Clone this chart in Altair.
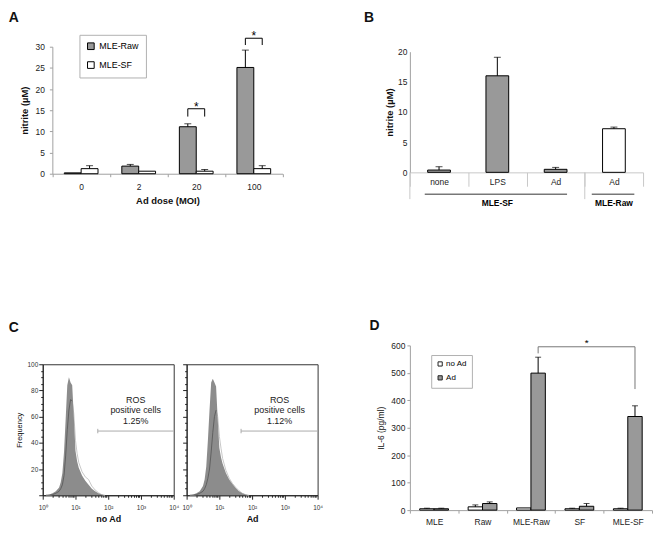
import altair as alt
import pandas as pd

FONT = "Liberation Sans"
GRAY = "#999999"
FILL = "#8c8c8c"
AXC = "#a0a0a0"

panel_letters = ["A", "B", "C", "D"]

# ---------------- Panel A : nitrite vs Ad dose ----------------
a_doses = ["0", "2", "20", "100"]
a_series = ["MLE-Raw", "MLE-SF"]
a_raw = [0.2, 1.8, 11.1, 25.1]
a_raw_err = [0.2, 2.2, 11.8, 29.2]
a_sf = [1.2, 0.6, 0.6, 1.2]
a_sf_err = [1.9, 0.6, 1.0, 1.9]
a_sig_doses = ["20", "100"]
a_sig_low = [13.5, 30.4]
a_sig_high = [15.35, 32.0]

# ---------------- Panel B : nitrite by treatment ----------------
b_cats = ["SF|none", "SF|LPS", "SF|Ad", "Raw|Ad"]
b_cells = ["MLE-SF", "MLE-SF", "MLE-SF", "MLE-Raw"]
b_vals = [0.38, 16.0, 0.5, 7.23]
b_err = [0.93, 19.07, 0.82, 7.5]
b_groups = ["MLE-SF", "MLE-Raw"]
b_group_first = ["SF|none", "Raw|Ad"]
b_group_last = ["SF|Ad", "Raw|Ad"]
b_group_mid = ["SF|LPS", "Raw|Ad"]
b_long_sep = ["SF|none", "Raw|Ad"]

# ---------------- Panel C : ROS flow histograms ----------------
c_decade = [0.1, 0.2, 0.3, 0.4, 0.5, 0.55, 0.6, 0.65, 0.7, 0.75, 0.8, 0.85, 0.9,
            0.95, 1.0, 1.05, 1.1, 1.2, 1.3, 1.4, 1.5, 1.6, 1.7, 1.8, 1.9]
c_fill_noad = [0, 0.5, 1.5, 3, 6, 10, 17, 33, 58, 84, 90, 86, 84,
               60, 34, 26, 21, 15, 11, 8, 5, 3, 1.5, 0.5, 0]
c_line_noad = [0, 0, 0.5, 1.5, 3, 5, 8, 15, 30, 50, 65, 73, 72,
               62, 42, 32, 25, 18, 14, 12, 7, 4, 2, 0.5, 0]
c_fill_ad = [0, 0.5, 1.5, 3, 7, 12, 22, 42, 65, 86, 89, 86, 83,
             58, 36, 29, 24, 17, 12, 8.5, 5.5, 3, 1.5, 0.5, 0]
c_line_ad = [0, 0, 0.5, 1.5, 3, 5, 8, 13, 20, 33, 48, 60, 65,
             60, 45, 36, 28, 19, 13, 9, 6, 3.5, 1.5, 0.5, 0]
c_titles = ["no Ad", "Ad"]
c_gate_start = [48, 46]
c_gate_level = 49
c_pct = ["1.25%", "1.12%"]
c_text = ["ROS", "positive cells"]
c_text_y = [73, 64.8, 57]
c_text_x = 690

# ---------------- Panel D : IL-6 ----------------
d_cats = ["MLE", "Raw", "MLE-Raw", "SF", "MLE-SF"]
d_series = ["no Ad", "Ad"]
d_noad = [5, 12, 8, 5, 5]
d_noad_err = [7, 19, 8, 7, 7]
d_ad = [5, 24, 499, 14, 341]
d_ad_err = [7, 30, 557, 24, 380]
d_sig_left = ["MLE-Raw", 571]
d_sig_right = ["MLE-SF", 441]
d_sig_top = 595


def letter(i, dx, dy):
    return alt.Chart(pd.DataFrame({"t": [panel_letters[i]]})).mark_text(
        align="left", baseline="top", fontSize=14, fontWeight="bold", color="#111111"
    ).encode(text="t:N", x=alt.value(dx), y=alt.value(dy))


# ======================= Panel A =======================
A_LEFT = 9.7          # empty strip left of the y axis (aligns with panel C)
A_W, A_H = 232 + A_LEFT, 128
A_BAR = 17            # bar width in px
A_SHIFT = [-A_BAR / 2, A_BAR / 2]
a_df = pd.DataFrame({
    "dose": a_doses + a_doses,
    "series": [a_series[0]] * 4 + [a_series[1]] * 4,
    "value": a_raw + a_sf,
    "err": a_raw_err + a_sf_err,
})
a_sig = pd.DataFrame({"dose": a_sig_doses, "low": a_sig_low, "high": a_sig_high})

a_x = alt.X("dose:N", sort=a_doses, title="Ad dose (MOI)",
            scale=alt.Scale(type="band", domain=a_doses, range=[A_LEFT, A_W],
                            paddingInner=0, paddingOuter=0),
            axis=alt.Axis(labelAngle=0, tickBand="extent", tickSize=3, tickColor=AXC,
                          domainColor=AXC, labelPadding=6, labelFontSize=8.5,
                          titleFontSize=9.5, titleFontWeight="bold", titlePadding=5))


def a_y(field):
    return alt.Y(field, title="nitrite (µM)",
                 scale=alt.Scale(domain=[0, 30], nice=False),
                 axis=alt.Axis(values=[0, 5, 10, 15, 20, 25, 30], grid=False, tickSize=3,
                               tickColor=AXC, domainColor=AXC, labelPadding=5,
                               labelFontSize=8.5, titleFontSize=9.5, titleFontWeight="bold",
                               minExtent=17, maxExtent=17, titlePadding=6, offset=-A_LEFT))


a_color = alt.Color("series:N", sort=a_series,
                    scale=alt.Scale(domain=a_series, range=[GRAY, "white"]),
                    legend=alt.Legend(orient="none", legendX=37, legendY=-12, title=None,
                                      symbolType="square", symbolSize=45,
                                      symbolStrokeColor="black", symbolStrokeWidth=1,
                                      labelFontSize=9, rowPadding=8, padding=7,
                                      labelOffset=4, strokeColor="#b0b0b0",
                                      fillColor="white"))
a_layers = []
for s, sh in zip(a_series, A_SHIFT):
    base = alt.Chart(a_df).transform_filter(f"datum.series == '{s}'")
    a_layers.append(base.mark_bar(stroke="black", strokeWidth=1, width=A_BAR, xOffset=sh)
                    .encode(x=a_x, y=a_y("value:Q"), color=a_color))
    err = base.transform_filter("datum.err > datum.value")
    a_layers.append(err.mark_rule(color="black", strokeWidth=1, xOffset=sh)
                    .encode(x=a_x, y=a_y("value:Q"), y2="err:Q"))
    a_layers.append(err.mark_tick(color="black", thickness=1, size=7, orient="horizontal",
                                  xOffset=sh).encode(x=a_x, y=a_y("err:Q")))
    # bracket legs
    a_layers.append(alt.Chart(a_sig).mark_rule(color="black", strokeWidth=1, xOffset=sh)
                    .encode(x=a_x, y=a_y("low:Q"), y2="high:Q"))
# bracket top + star
a_layers.append(alt.Chart(a_sig).mark_rule(color="black", strokeWidth=1,
                                           xOffset=A_SHIFT[0], x2Offset=A_SHIFT[1])
                .encode(x=a_x, x2="dose:N", y=a_y("high:Q")))
a_layers.append(alt.Chart(a_sig).mark_text(text="*", fontSize=12, dy=2, baseline="alphabetic")
                .encode(x=a_x, y=a_y("high:Q")))
a_layers.append(letter(0, -34.3, -36.4))

panel_a = alt.layer(*a_layers).properties(width=A_W, height=A_H)

# ======================= Panel B =======================
B_TOP = 5             # empty strip above the 20 tick (aligns with panel A)
B_W, B_H = 235, 121.6 + B_TOP
b_df = pd.DataFrame({"cat": b_cats, "cell": b_cells, "value": b_vals, "err": b_err})
b_grp = pd.DataFrame({"group": b_groups, "first": b_group_first,
                      "last": b_group_last, "mid": b_group_mid})
b_sep = pd.DataFrame({"cat": b_long_sep})
b_scale = alt.Scale(domain=b_cats, paddingInner=0, paddingOuter=0)
b_axis = alt.Axis(labelAngle=0, tickBand="extent", tickSize=14, tickColor="#c8c8c8",
                  domainColor="#c8c8c8", labelPadding=-9, labelFontSize=8.5,
                  labelExpr="split(datum.label, '|')[1]")


def b_x(field, **kw):
    return alt.X(field, sort=b_cats, scale=b_scale, axis=b_axis, title=None, **kw)


def b_y(field):
    return alt.Y(field, title="nitrite (µM)",
                 scale=alt.Scale(domain=[0, 20], range=[B_H, B_TOP], nice=False),
                 axis=alt.Axis(values=[0, 5, 10, 15, 20], grid=False, ticks=False,
                               domainColor=AXC, labelPadding=3, labelFontSize=8.5,
                               titleFontSize=9.5, titleFontWeight="bold",
                               minExtent=13, maxExtent=13, titlePadding=2.5))


b_bars = alt.Chart(b_df).mark_bar(stroke="black", strokeWidth=1,
                                  width=alt.RelativeBandSize(0.39)).encode(
    x=b_x("cat:N"), y=b_y("value:Q"),
    color=alt.Color("cell:N", scale=alt.Scale(domain=["MLE-SF", "MLE-Raw"],
                                              range=[GRAY, "white"]), legend=None))
b_errs = alt.Chart(b_df).mark_rule(color="black", strokeWidth=1).encode(
    x=b_x("cat:N"), y=b_y("value:Q"), y2="err:Q")
b_caps = alt.Chart(b_df).mark_tick(color="black", thickness=1, size=7,
                                   orient="horizontal").encode(x=b_x("cat:N"), y=b_y("err:Q"))
b_seps = alt.Chart(b_sep).mark_rule(color="#c8c8c8", strokeWidth=1).encode(
    x=b_x("cat:N", bandPosition=0), y=alt.value(B_H), y2=alt.value(B_H + 27))
b_line_sf = alt.Chart(b_grp).transform_filter(f"datum.group == '{b_groups[0]}'").mark_rule(
    color="#333", strokeWidth=1).encode(
    x=b_x("first:N", bandPosition=0.255), x2=alt.X2("last:N", bandPosition=0.696),
    y=alt.value(B_H + 22))
b_line_raw = alt.Chart(b_grp).transform_filter(f"datum.group == '{b_groups[1]}'").mark_rule(
    color="#333", strokeWidth=1).encode(
    x=b_x("first:N", bandPosition=0.12), x2=alt.X2("last:N", bandPosition=0.85),
    y=alt.value(B_H + 22))
b_text = alt.Chart(b_grp).mark_text(fontSize=8.5, fontWeight="bold", baseline="middle").encode(
    x=b_x("mid:N"), y=alt.value(B_H + 31), text="group:N")

panel_b = alt.layer(b_bars, b_errs, b_caps, b_seps, b_line_sf, b_line_raw, b_text,
                    letter(1, -46.3, -36.4)).properties(width=B_W, height=B_H)

# ======================= Panel C =======================
C_W, C_H = 132, 132
c_intensity = [10 ** d for d in c_decade]
c_xticks = [k * 10 ** e for e in range(4) for k in range(1, 10)] + [10000]
c_yticks = list(range(0, 101, 5))
C_XLABEL = ("datum.value == 1 ? '10⁰' : datum.value == 10 ? '10¹' : "
            "datum.value == 100 ? '10²' : datum.value == 1000 ? '10³' : "
            "datum.value == 10000 ? '10⁴' : ''")


def c_panel(idx, fill, line):
    first = idx == 0
    hist = pd.DataFrame({"intensity": c_intensity, "fill": fill, "line": line})
    gate = pd.DataFrame({"x": [c_gate_start[idx]], "x2": [10000], "y": [c_gate_level],
                         "ylo": [c_gate_level - 1.7], "yhi": [c_gate_level + 1.7]})
    txt = pd.DataFrame({"x": [c_text_x] * 3, "y": c_text_y,
                        "t": c_text + [c_pct[idx]]})
    xs = alt.Scale(type="log", domain=[1, 10000], nice=False)
    xaxis = alt.Axis(values=c_xticks, labelExpr=C_XLABEL,
                     tickSize={"condition": {"test": "indexof([1,10,100,1000,10000], datum.value) >= 0",
                                             "value": 4}, "value": 2},
                     labelFlush=False, labelOverlap=False, grid=False, labelFontSize=6.5,
                     labelPadding=5, titleFontSize=9, titleFontWeight="bold",
                     titlePadding=4, domainColor="#222", tickColor="#222",
                     labelColor="#333")
    ys = alt.Scale(domain=[0, 100], nice=False)
    yaxis = alt.Axis(values=c_yticks,
                     labelExpr="datum.value % 20 == 0 && datum.value > 0 ? datum.label : ''",
                     labels=first,
                     tickSize={"condition": {"test": "datum.value % 20 == 0", "value": 4},
                               "value": 2},
                     grid=False, labelFontSize=6.5, labelPadding=1,
                     minExtent=16 if first else 4, maxExtent=16 if first else 4,
                     titleFontSize=7.5, titleFontWeight="normal", titlePadding=3.7,
                     domainColor="#222", tickColor="#222", labelColor="#333")

    def cx(field):
        return alt.X(field, scale=xs, axis=xaxis, title=c_titles[idx])

    def cy(field):
        return alt.Y(field, scale=ys, axis=yaxis, title="Frequency" if first else None)

    light = alt.Chart(hist).mark_line(color="#c8c8c8", strokeWidth=1).encode(
        x=cx("intensity:Q"), y=cy("line:Q"))
    area = alt.Chart(hist).mark_area(color=FILL).encode(x=cx("intensity:Q"), y=cy("fill:Q"))
    dark = alt.Chart(hist).transform_filter(
        "datum.line <= datum.fill && datum.intensity < 10").mark_line(
        color="#555555", strokeWidth=0.8).encode(x=cx("intensity:Q"), y=cy("line:Q"))
    g1 = alt.Chart(gate).mark_rule(color="#aaaaaa").encode(x=cx("x:Q"), x2="x2:Q", y=cy("y:Q"))
    g2 = alt.Chart(gate).mark_rule(color="#aaaaaa").encode(x=cx("x:Q"), y=cy("ylo:Q"), y2="yhi:Q")
    tx = alt.Chart(txt).mark_text(fontSize=9, color="#222").encode(
        x=cx("x:Q"), y=cy("y:Q"), text="t:N")
    layers = [light, area, dark, g1, g2, tx]
    if first:
        layers.append(letter(2, -34.3, -44))
    return alt.layer(*layers).properties(
        width=C_W, height=C_H, view=alt.ViewBackground(stroke="#333333", strokeWidth=1))


panel_c = alt.hconcat(c_panel(0, c_fill_noad, c_line_noad),
                      c_panel(1, c_fill_ad, c_line_ad), spacing=1)

# ======================= Panel D =======================
D_W, D_H = 244, 166
D_BAR = 14.5
D_SHIFT = [-D_BAR / 2, D_BAR / 2]
d_df = pd.DataFrame({
    "cat": d_cats + d_cats,
    "series": [d_series[0]] * 5 + [d_series[1]] * 5,
    "value": d_noad + d_ad,
    "err": d_noad_err + d_ad_err,
})
d_legs = pd.DataFrame({"cat": [d_sig_left[0], d_sig_right[0]],
                       "low": [d_sig_left[1], d_sig_right[1]],
                       "high": [d_sig_top, d_sig_top]})
d_top = pd.DataFrame({"cat": [d_sig_left[0]], "cat2": [d_sig_right[0]],
                      "high": [d_sig_top], "mid": ["SF"]})

d_scale = alt.Scale(type="band", domain=d_cats, paddingInner=0, paddingOuter=0)
d_axis = alt.Axis(labelAngle=0, tickBand="extent", tickSize=3, tickColor=AXC,
                  domainColor=AXC, labelPadding=4, labelFontSize=8.5)


def d_xf(field):
    return alt.X(field, sort=d_cats, title=None, scale=d_scale, axis=d_axis)


d_x = d_xf("cat:N")


def d_y(field):
    return alt.Y(field, title="IL-6 (pg/ml)",
                 scale=alt.Scale(domain=[0, 600], nice=False),
                 axis=alt.Axis(values=[0, 100, 200, 300, 400, 500, 600], grid=False,
                               tickSize=3, tickColor=AXC, domainColor=AXC, labelPadding=2,
                               labelFontSize=8.5, titleFontSize=8.5,
                               titleFontWeight="normal", minExtent=19, maxExtent=19,
                               titlePadding=5.7))


d_color = alt.Color("series:N", sort=d_series,
                    scale=alt.Scale(domain=d_series, range=["white", GRAY]),
                    legend=alt.Legend(orient="none", legendX=21.5, legendY=9.7, title=None,
                                      symbolType="square", symbolSize=18,
                                      symbolStrokeColor="#222", symbolStrokeWidth=1,
                                      labelFontSize=8, rowPadding=4, padding=5,
                                      labelOffset=2, strokeColor="#b0b0b0",
                                      fillColor="white"))
d_layers = []
for s, sh in zip(d_series, D_SHIFT):
    base = alt.Chart(d_df).transform_filter(f"datum.series == '{s}'")
    d_layers.append(base.mark_bar(stroke="black", strokeWidth=1, width=D_BAR, xOffset=sh)
                    .encode(x=d_x, y=d_y("value:Q"), color=d_color))
    err = base.transform_filter("datum.err > datum.value")
    d_layers.append(err.mark_rule(color="black", strokeWidth=1, xOffset=sh)
                    .encode(x=d_x, y=d_y("value:Q"), y2="err:Q"))
    d_layers.append(err.mark_tick(color="black", thickness=1, size=6, orient="horizontal",
                                  xOffset=sh).encode(x=d_x, y=d_y("err:Q")))
# significance bracket between the two Ad bars
d_layers.append(alt.Chart(d_legs).mark_rule(color="#777777", strokeWidth=1,
                                            xOffset=D_SHIFT[1])
                .encode(x=d_x, y=d_y("low:Q"), y2="high:Q"))
d_layers.append(alt.Chart(d_top).mark_rule(color="#777777", strokeWidth=1,
                                           xOffset=D_SHIFT[1], x2Offset=D_SHIFT[1])
                .encode(x=d_x, x2="cat2:N", y=d_y("high:Q")))
d_layers.append(alt.Chart(d_top).mark_text(text="*", fontSize=10, dy=-1, dx=D_SHIFT[1],
                                           baseline="alphabetic")
                .encode(x=d_xf("mid:N"), y=d_y("high:Q")))
d_layers.append(letter(3, -40.8, -26.3))

panel_d = alt.layer(*d_layers).properties(width=D_W, height=D_H)

# ======================= Layout =======================
col_left = alt.concat(panel_a, panel_c, columns=1, align="none", spacing=115).resolve_scale(
    color="independent")
col_right = alt.vconcat(panel_b, panel_d, spacing=111).resolve_scale(color="independent")

chart = alt.hconcat(col_left, col_right, spacing=40).resolve_scale(
    color="independent").properties(padding=0).configure(
    font=FONT).configure_view(stroke=None).configure_axis(
    labelFont=FONT, titleFont=FONT, labelColor="#222222", titleColor="#111111").configure_legend(
    labelFont=FONT)

chart.save("out.html", embed_options={"renderer": "svg", "actions": False})
